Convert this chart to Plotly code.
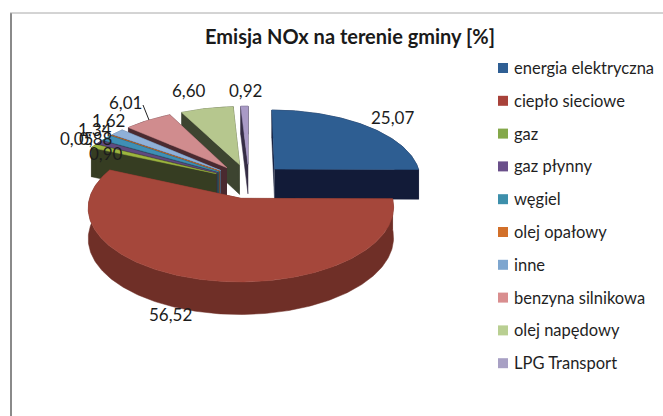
import numpy as np
import plotly.graph_objects as go

title = "Emisja NOx na terenie gminy [%]"
categories = ["energia elektryczna", "ciepło sieciowe", "gaz", "gaz płynny", "węgiel",
              "olej opałowy", "inne", "benzyna silnikowa", "olej napędowy", "LPG Transport"]
values = [25.07, 56.52, 0.90, 0.88, 1.34, 0.05, 1.62, 6.01, 6.60, 0.92]
top_colors = ["#2e5e92", "#a5473b", "#9db53f", "#5f4a80", "#3f8fb5",
              "#d2702a", "#8fb0d8", "#d08c8e", "#b6c78e", "#a99ac6"]
wall_colors = ["#121b38", "#6f2f27", "#363d22", "#3c2c40", "#23505f",
               "#7a4118", "#4a5f78", "#4a2a30", "#3d4430", "#352d45"]
legend_colors = ["#2f5f94", "#a8423a", "#84a84a", "#6a4f8a", "#3d8fab",
                 "#d2702a", "#7ea6cf", "#d98e8f", "#b9cf92", "#a8a0c4"]
label_pos = [(392, 117), (170, 314), (106, 153), (96, 138), (95, 129),
             (76, 138), (108, 120), (125, 102), (189, 90), (245, 90)]

W, H = 663, 416
X0, Y0, RX, RY, K, EXPLODE = 249, 181, 147, 68.9, 0.121, 0.25
FONT = "Lato"
LEG_X, LEG_TEXT_X, LEG_Y, LEG_STEP = 503, 512, 68, 32.8


def project(u, v):
    w = 1 + K * np.asarray(v)
    return X0 + RX * np.asarray(u) / w, Y0 - RY * np.asarray(v) / w, 30 / np.sqrt(w)


def slice_outline(a0, a1):
    mid = (a0 + a1) / 2
    eu, ev = EXPLODE * np.sin(mid), EXPLODE * np.cos(mid)
    t = np.linspace(a0, a1, max(4, int((a1 - a0) * 60)))
    return eu, ev, eu + np.sin(t), ev + np.cos(t)


fig = go.Figure()
total = sum(values)
edges = np.cumsum([0] + values) / total * 2 * np.pi
slices = []
for i in range(len(values)):
    eu, ev, au, av = slice_outline(edges[i], edges[i + 1])
    slices.append((ev, i, eu, au, av))
slices.sort(key=lambda s: -s[0])

for ev, i, eu, au, av in slices:
    ax, ay, ad = project(au, av)
    cx, cy, cd = project(eu, ev)
    # side faces, in the darker shade of the slice
    for px, py, pd in [
        (ax, ay, ad),
        (np.array([cx, ax[0]]), np.array([cy, ay[0]]), np.array([cd, ad[0]])),
        (np.array([cx, ax[-1]]), np.array([cy, ay[-1]]), np.array([cd, ad[-1]])),
    ]:
        fig.add_trace(go.Scatter(
            x=np.r_[px, px[::-1]], y=np.r_[py, (py + pd)[::-1]], mode="lines",
            fill="toself", fillcolor=wall_colors[i], line=dict(color=wall_colors[i], width=0.5),
            hoverinfo="skip", showlegend=False))
    # top face
    fig.add_trace(go.Scatter(
        x=np.r_[cx, ax, cx], y=np.r_[cy, ay, cy], mode="lines", fill="toself",
        fillcolor=top_colors[i], line=dict(color=top_colors[i], width=0.5),
        name=categories[i], text=f"{values[i]:.2f}", hoverinfo="name+text", showlegend=False))

# legend column: swatch per category, name as text beside it
annotations = []
for i, name in enumerate(categories):
    fig.add_trace(go.Scatter(
        x=[LEG_X], y=[LEG_Y + i * LEG_STEP], mode="markers", name=name,
        hoverinfo="skip", showlegend=False,
        marker=dict(symbol="square", size=10, color=legend_colors[i])))
    annotations.append(dict(x=LEG_TEXT_X, y=LEG_Y + i * LEG_STEP, text=name, showarrow=False,
                            xanchor="left", yanchor="middle",
                            font=dict(family=FONT, size=16.5, color="#1f1f1f")))

annotations += [
    dict(x=p[0], y=p[1], text=f"{v:.2f}".replace(".", ","), showarrow=False,
         font=dict(family=FONT, size=17, color="#1c1c1c"), xanchor="center", yanchor="middle")
    for p, v in zip(label_pos, values)
]

fig.update_layout(
    width=W, height=H, autosize=False,
    margin=dict(l=0, r=0, t=0, b=0),
    paper_bgcolor="white", plot_bgcolor="white",
    title=dict(text=f"<b>{title}</b>", x=350 / W, xanchor="center", y=1 - 37 / H, yanchor="middle",
               font=dict(family=FONT, size=20, color="#1a1a1a")),
    xaxis=dict(range=[0, W], visible=False, fixedrange=True),
    yaxis=dict(range=[H, 0], visible=False, fixedrange=True),
    showlegend=False,
    annotations=annotations,
    shapes=[
        dict(type="line", x0=11, x1=11, y0=13, y1=H, line=dict(color="#8a8a8a", width=2)),
        dict(type="line", x0=10, x1=W, y0=13, y1=13, line=dict(color="#a8a8a8", width=1)),
        dict(type="line", x0=143, x1=149, y0=105, y1=120, line=dict(color="#222222", width=1)),
    ],
)
fig.write_html("out.html", config={"displayModeBar": False},
               post_script="document.body.style.margin='0';document.body.style.overflow='hidden';")
